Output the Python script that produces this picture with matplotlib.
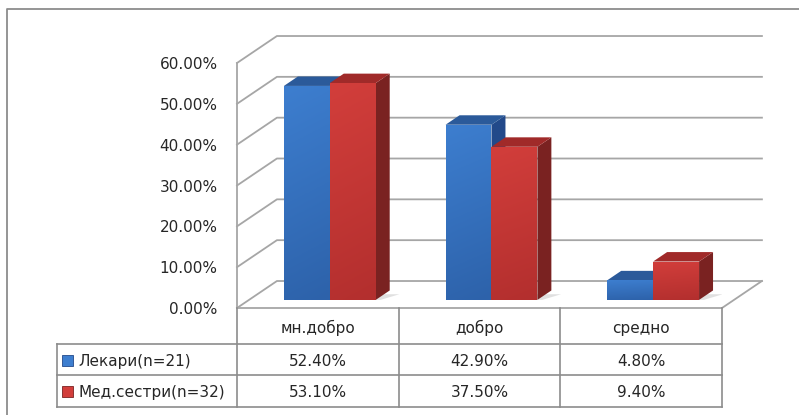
import numpy as np
import matplotlib
matplotlib.use("Agg")
from matplotlib import pyplot as plt
from matplotlib import transforms
from matplotlib.patches import Polygon, Rectangle
from matplotlib.colors import LinearSegmentedColormap

# data
categories = ["мн.добро", "добро", "средно"]
series_names = ["Лекари(n=21)", "Мед.сестри(n=32)"]
doctors = [52.4, 42.9, 4.8]
nurses = [53.1, 37.5, 9.4]
y_ticks = [0, 10, 20, 30, 40, 50, 60]

# styling
GRID = "#a6a6a6"
TXT = "#262626"
FS = 11
series_style = [
    # front top, front bottom, top face, side face
    ("#3d7ecf", "#2d62aa", "#2b5a9a", "#22498a"),
    ("#d23e3b", "#b32f2e", "#a02a29", "#7a2221"),
]

# depth of the 3D box in data units, bar depth placement
DX, DY = 0.247, 6.61
D0, DB = 0.30, 0.35
BW = 0.284

fig = plt.figure(figsize=(7.99, 4.15), dpi=100)
fig.patch.set_facecolor("white")

frame = fig.add_axes([0, 0, 1, 1])
frame.set_xlim(0, 799)
frame.set_ylim(415, 0)
frame.axis("off")

ax = fig.add_axes([237 / 799, 107 / 415, 485 / 799, 245 / 415])
ax.set_xlim(0, 3)
ax.set_ylim(0, 60)
ax.patch.set_visible(False)
for s in ax.spines.values():
    s.set_visible(False)
ax.set_xticks([])
ax.set_yticks(y_ticks)
ax.set_yticklabels(["%.2f%%" % v for v in y_ticks], fontsize=FS, color=TXT)
ax.tick_params(axis="y", length=0, pad=14)

# outer chart border (left and top only visible)
frame.plot([7, 7, 799], [415, 9, 9], color="#8c8c8c", lw=1.3)

# walls and gridlines
for v in y_ticks:
    ax.plot([0, DX, 3 + DX], [v, v + DY, v + DY], color=GRID, lw=1.3,
            clip_on=False, zorder=1)
ax.plot([0, 0], [0, 60], color=GRID, lw=1.3, clip_on=False, zorder=1)
ax.plot([0, 3, 3 + DX], [0, 0, DY], color=GRID, lw=1.3, clip_on=False, zorder=1)


def front_face(x0, x1, y0, y1, ctop, cbot, z):
    p = Polygon([(x0, y0), (x1, y0), (x1, y1), (x0, y1)], closed=True,
                facecolor="none", edgecolor="none")
    ax.add_patch(p)
    grad = np.linspace(0, 1, 64).reshape(-1, 1) * np.ones((1, 16))
    grad = grad * 0.85 + 0.15 * np.linspace(1, 0.4, 16)[None, :]
    cmap = LinearSegmentedColormap.from_list("f", [cbot, ctop])
    im = ax.imshow(grad, extent=[x0, x1, y0, y1], origin="lower",
                   aspect="auto", cmap=cmap, zorder=z, interpolation="bilinear")
    im.set_clip_path(p)


for i in range(len(categories)):
    c = i + 0.5 + D0 * DX
    base = D0 * DY
    ddx, ddy = DB * DX, DB * DY
    # soft floor shadow
    ax.add_patch(Polygon([(c - BW, base), (c + BW + 0.03, base),
                          (c + BW + ddx + 0.06, base + ddy * 0.6),
                          (c - BW + ddx, base + ddy * 0.6)],
                         closed=True, facecolor="#d9d9d9", edgecolor="none",
                         alpha=0.8, zorder=2))
    for k, vals in enumerate([doctors, nurses]):
        ftop, fbot, topc, sidec = series_style[k]
        x0 = c - BW + k * BW
        x1 = x0 + BW
        top = base + vals[i]
        z = 3 + k * 3
        ax.add_patch(Polygon([(x1, base), (x1 + ddx, base + ddy),
                              (x1 + ddx, top + ddy), (x1, top)],
                             closed=True, facecolor=sidec, edgecolor="none",
                             zorder=z))
        ax.add_patch(Polygon([(x0, top), (x1, top), (x1 + ddx, top + ddy),
                              (x0 + ddx, top + ddy)],
                             closed=True, facecolor=topc, edgecolor="none",
                             zorder=z + 1))
        front_face(x0, x1, base, top, ftop, fbot, z + 2)

ax.set_xlim(0, 3)
ax.set_ylim(0, 60)

# data table below the plot (x in category units, y in pixels)
tr = transforms.blended_transform_factory(ax.transData, frame.transData)
LEG_LEFT = -1.113
TL = "#8c8c8c"
for xb in range(len(categories) + 1):
    ax.plot([xb, xb], [308, 407], color=TL, lw=1.2, transform=tr, clip_on=False)
for yb in [344, 375, 407]:
    ax.plot([LEG_LEFT, 3], [yb, yb], color=TL, lw=1.2, transform=tr, clip_on=False)
ax.plot([LEG_LEFT, LEG_LEFT], [344, 407], color=TL, lw=1.2, transform=tr,
        clip_on=False)

for i, cat in enumerate(categories):
    ax.text(i + 0.5, 328, cat, ha="center", va="center", fontsize=FS,
            color=TXT, transform=tr)
    ax.text(i + 0.5, 361, "%.2f%%" % doctors[i], ha="center", va="center",
            fontsize=FS, color=TXT, transform=tr)
    ax.text(i + 0.5, 392, "%.2f%%" % nurses[i], ha="center", va="center",
            fontsize=FS, color=TXT, transform=tr)

for k, name in enumerate(series_names):
    yc = 360 + k * 31
    frame.add_patch(Rectangle((62, yc - 5.5), 11, 11,
                              facecolor=series_style[k][0],
                              edgecolor=series_style[k][3], lw=0.6))
    frame.text(78, yc + 1, name, ha="left", va="center", fontsize=FS, color=TXT)

fig.savefig("out.png", dpi=100, facecolor="white")
